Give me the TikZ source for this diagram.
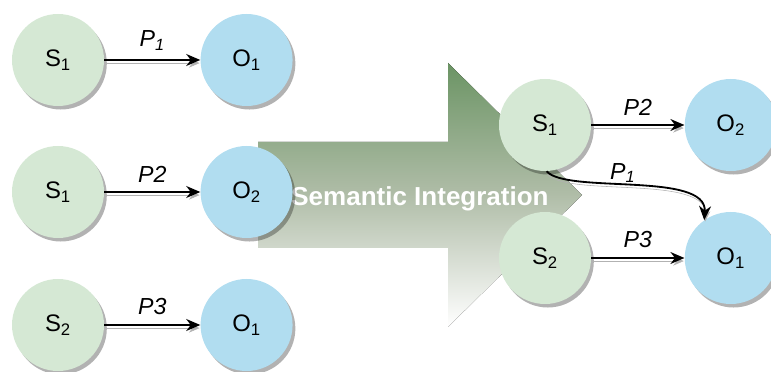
\documentclass[tikz,border=0pt]{standalone}
\usepackage{fontspec}
\setmainfont{Liberation Sans}
\usetikzlibrary{positioning,shadows,arrows.meta}
\definecolor{subjgreen}{HTML}{D5E8D4}
\definecolor{objblue}{HTML}{B1DDF0}
\definecolor{bandtop}{HTML}{6B9464}
\definecolor{bandmid}{HTML}{B0BDA8}
\tikzset{
  ent/.style={circle, minimum size=2.3cm, inner sep=0pt, font=\fontsize{17}{19}\selectfont,
    drop shadow={shadow xshift=2pt, shadow yshift=-2.5pt, fill=black, opacity=0.3}},
  subjnode/.style={ent, fill=subjgreen},
  objnode/.style={ent, fill=objblue},
  rel/.style={-{Stealth[length=10pt,width=8.5pt]}, line width=1.3pt,
    preaction={draw=black!30, transform canvas={shift={(0.6pt,-2.2pt)}}}},
  lbl/.style={font=\fontsize{16.5}{18}\selectfont\itshape}
}

\begin{document}
\begin{tikzpicture}
  \useasboundingbox (0,0) rectangle (19.275,9.3);
  % integration arrow
  \fill[top color=bandtop, bottom color=white, middle color=bandmid]
    (6.45,5.75) -- (11.2,5.75) -- (11.2,7.725) -- (14.55,4.425) -- (11.2,1.125)
    -- (11.2,3.1) -- (6.45,3.1) -- cycle;
  \node[text=white, font=\bfseries\fontsize{18.5}{21}\selectfont] (band) at (10.5,4.325) {Semantic Integration};
  % source triples
  \node[subjnode] (S1a) at (1.45,7.8) {S\textsubscript{1}};
  \node[objnode] (O1a) [right=2.4cm of S1a] {O\textsubscript{1}};
  \node[subjnode] (S1b) at (1.45,4.5) {S\textsubscript{1}};
  \node[objnode] (O2b) [right=2.4cm of S1b] {O\textsubscript{2}};
  \node[subjnode] (S2c) at (1.45,1.175) {S\textsubscript{2}};
  \node[objnode] (O1c) [right=2.4cm of S2c] {O\textsubscript{1}};
  \draw[rel] (S1a) -- node[lbl, above=3pt] {P\textsubscript{1}} (O1a);
  \draw[rel] (S1b) -- node[lbl, above=3pt] {P2} (O2b);
  \draw[rel] (S2c) -- node[lbl, above=3pt] {P3} (O1c);
  % integrated graph
  \node[subjnode] (S1r) at (13.625,6.175) {S\textsubscript{1}};
  \node[objnode] (O2r) [right=2.33cm of S1r] {O\textsubscript{2}};
  \node[subjnode] (S2r) at (13.625,2.85) {S\textsubscript{2}};
  \node[objnode] (O1r) [right=2.33cm of S2r] {O\textsubscript{1}};
  \draw[rel] (S1r) -- node[lbl, above=3pt] {P2} (O2r);
  \draw[rel] (S2r) -- node[lbl, above=3pt] {P3} (O1r);
  \draw[rel] (S1r.-88) .. controls +(0.5,-0.575) and +(0.075,1.225) ..
    node[lbl, above, inner sep=1pt, pos=0.45] {P\textsubscript{1}} (O1r.125);
\end{tikzpicture}
\end{document}
